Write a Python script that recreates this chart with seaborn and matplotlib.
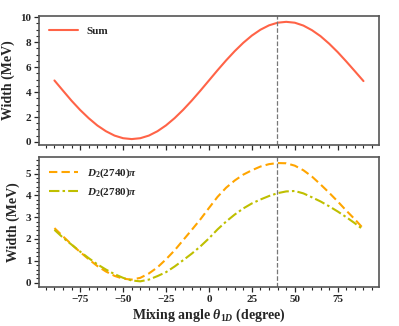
import numpy as np
import pandas as pd
import matplotlib
matplotlib.use("Agg")
import matplotlib.pyplot as plt
import seaborn as sns

# mixing angle grid (degree), values every 5 degrees
theta = list(range(-90, 91, 5))

width_sum = [4.93, 4.11, 3.30, 2.56, 1.90, 1.32, 0.86, 0.51, 0.30, 0.23,
             0.30, 0.51, 0.86, 1.33, 1.91, 2.58, 3.32, 4.11, 4.93, 5.75,
             6.54, 7.28, 7.95, 8.53, 9.00, 9.35, 9.56, 9.63, 9.56, 9.33,
             8.96, 8.48, 7.88, 7.20, 6.45, 5.67, 4.88]

width_2740 = [2.50, 2.12, 1.75, 1.40, 1.07, 0.76, 0.51, 0.31, 0.18, 0.14,
              0.22, 0.42, 0.70, 1.07, 1.48, 1.95, 2.42, 2.90, 3.42, 3.93,
              4.35, 4.68, 4.95, 5.15, 5.32, 5.43, 5.48, 5.47, 5.36, 5.15,
              4.86, 4.50, 4.12, 3.72, 3.30, 2.90, 2.47]

width_2780 = [2.42, 2.06, 1.74, 1.42, 1.12, 0.84, 0.60, 0.39, 0.22, 0.10,
              0.06, 0.14, 0.30, 0.48, 0.74, 1.03, 1.33, 1.66, 2.03, 2.44,
              2.80, 3.12, 3.40, 3.63, 3.81, 3.97, 4.10, 4.18, 4.20, 4.09,
              3.91, 3.72, 3.50, 3.26, 3.00, 2.72, 2.42]

theta_cut = 39.4

sns.set_style("ticks")
plt.rcParams['font.family'] = ['Liberation Serif', 'DejaVu Serif']
plt.rcParams['font.weight'] = 'bold'
plt.rcParams['mathtext.fontset'] = 'custom'
plt.rcParams['mathtext.rm'] = 'Liberation Serif:bold'
plt.rcParams['mathtext.it'] = 'Liberation Serif:italic:bold'
plt.rcParams['mathtext.bf'] = 'Liberation Serif:bold'
plt.rcParams['axes.edgecolor'] = '#555555'
plt.rcParams['axes.linewidth'] = 1.2

fig = plt.figure(figsize=(3.99, 3.26), dpi=100)
ax1 = fig.add_axes([0.0977, 0.555, 0.852, 0.396])
ax2 = fig.add_axes([0.0977, 0.1196, 0.852, 0.399])

df_top = pd.DataFrame({"theta": theta, "width": width_sum})
sns.lineplot(data=df_top, x="theta", y="width", ax=ax1, color="#ff6347",
             lw=1.5, label="Sum")

df_bot = pd.DataFrame({"theta": theta, "a": width_2740, "b": width_2780})
sns.lineplot(data=df_bot, x="theta", y="a", ax=ax2, color="#ffa500", lw=1.5,
             linestyle=(0, (4, 2)), label=r"$\mathit{D_2(2740)\pi}$")
sns.lineplot(data=df_bot, x="theta", y="b", ax=ax2, color="#bfbf00", lw=1.5,
             linestyle=(0, (5, 1.5, 1.2, 1.5)), label=r"$\mathit{D_2(2780)\pi}$")

for ax in (ax1, ax2):
    ax.axvline(theta_cut, color="#777777", ls="--", lw=0.9)
    ax.set_xlim(-99, 99)
    ax.set_xticks([-75, -50, -25, 0, 25, 50, 75])
    ax.set_xticks(np.arange(-95, 96, 5), minor=True)
    ax.tick_params(which='major', length=3.5, width=0.9, labelsize=8, pad=2)
    ax.tick_params(which='minor', length=2, width=0.8)
    ax.set_ylabel("Width (MeV)", fontsize=10, fontweight='bold', labelpad=4)
    leg = ax.legend(loc="upper left", frameon=False, fontsize=8,
                    handlelength=2.6, borderaxespad=0.5)
    for t in leg.get_texts():
        t.set_fontweight('bold')

ax1.set_ylim(-0.25, 10.1)
ax1.set_yticks([0, 2, 4, 6, 8, 10])
ax1.set_yticks(np.arange(0, 10.1, 0.5), minor=True)
ax1.set_xticklabels([])
ax1.set_xlabel("")

ax2.set_ylim(-0.2, 5.76)
ax2.set_yticks([0, 1, 2, 3, 4, 5])
ax2.set_yticks(np.arange(0, 5.7, 0.2), minor=True)
ax2.set_xlabel(r"Mixing angle $\theta_{1D}$ (degree)", fontsize=10,
               fontweight='bold', labelpad=2)

for ax in (ax1, ax2):
    for lab in ax.get_xticklabels() + ax.get_yticklabels():
        lab.set_fontweight('bold')

fig.savefig("out.png", dpi=100)
